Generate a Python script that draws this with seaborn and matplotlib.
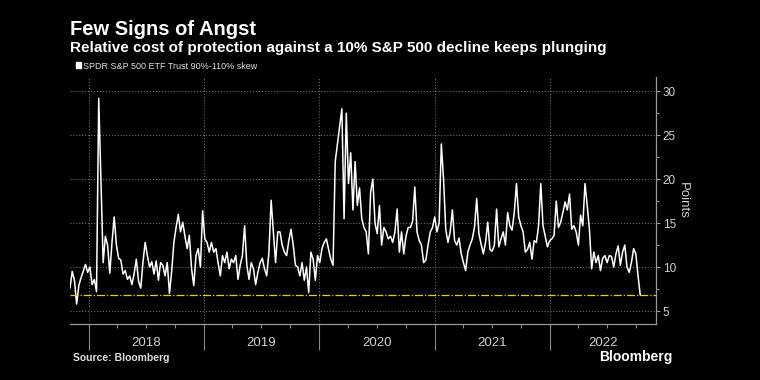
import matplotlib
matplotlib.use('Agg')
import matplotlib.pyplot as plt
import matplotlib.dates as mdates
from matplotlib.ticker import MultipleLocator, NullFormatter
from matplotlib.patches import Patch
import pandas as pd
import seaborn as sns

# Weekly readings of the SPY 90%-110% skew (points), starting early Nov 2017
skew_values = [
    7.6, 9.5, 8.5, 5.8, 7.9, 8.8, 9.5, 10.3, 9.4, 10.0,
    8.0, 8.6, 7.2, 29.2, 19.7, 10.5, 13.5, 12.5, 9.3, 12.8,
    15.7, 12.5, 11.0, 10.8, 9.2, 9.6, 8.6, 9.0, 8.0, 9.2,
    10.9, 8.4, 7.6, 10.5, 12.8, 11.3, 10.0, 10.6, 9.2, 10.7,
    8.5, 10.5,
    10.2, 9.0, 10.5, 7.0, 9.5, 12.8, 14.5, 16.0, 14.0, 15.1,
    13.5, 12.1, 13.6, 9.8, 7.9, 11.3, 12.1, 10.0, 16.4, 13.2,
    12.8, 11.7, 12.8, 11.7, 12.1, 10.5, 9.0, 11.3, 10.5, 11.7,
    9.8, 10.9, 10.5, 11.3, 8.6, 10.2, 11.3, 14.7, 10.2, 8.6,
    10.5, 9.8, 8.0, 9.4,
    10.5, 11.0, 9.8, 9.0, 11.7, 17.6, 14.0, 10.5, 14.0, 14.0,
    12.5, 11.7, 11.3, 13.0, 14.3, 12.5, 10.2, 10.0, 9.0, 10.5,
    8.5, 10.0, 7.1, 11.7, 10.9, 8.5, 11.3, 10.5, 12.1, 12.8,
    13.2, 12.0, 10.9, 10.2, 22.0, 24.0, 26.1, 28.0, 15.5, 27.5,
    19.5, 23.0, 16.5, 22.0, 17.0,
    19.0, 15.5, 14.5, 14.0, 11.5, 18.5, 20.0, 15.0, 13.8, 17.0,
    12.5, 14.5, 14.0, 13.2, 13.5, 12.8, 14.0, 16.6, 11.7, 14.0,
    11.5, 13.5, 14.5, 14.5, 15.2, 19.1, 14.0, 13.0, 12.5, 10.5,
    10.8, 12.5, 14.0, 14.5, 15.7, 14.0, 15.0, 24.0, 20.0, 14.3,
    12.8, 14.0, 16.5, 13.0,
    12.5, 13.3, 11.5, 10.5, 9.6, 11.7, 12.5, 13.2, 14.5, 17.8,
    13.8, 12.6, 11.5, 12.8, 15.1, 12.0, 11.8, 12.5, 16.6, 12.3,
    13.2, 14.0, 12.5, 16.2, 14.7, 14.2, 16.2, 19.5, 15.7, 14.7,
    14.0, 11.7, 12.0, 12.8, 10.9, 13.0, 12.8, 14.7, 19.5, 14.7,
    13.5, 12.3, 13.0, 13.2, 13.6,
    17.5, 14.5, 15.1, 16.2, 17.4, 16.5, 18.3, 14.3, 14.7, 14.0,
    12.5, 15.9, 14.7, 19.5, 17.0, 14.3, 9.8, 11.7, 10.5, 11.3,
    9.6, 11.0, 11.3, 10.5, 11.3, 11.2, 10.0, 11.5, 12.4, 10.2,
    11.7, 12.5, 10.0, 9.4, 10.5, 12.1, 11.5, 9.0, 6.8,
]
start_date = '2017-11-03'
axis_end = '2022-12-02'
year_labels = [2018, 2019, 2020, 2021, 2022]
ytick_values = [5, 10, 15, 20, 25, 30]

dates = pd.date_range(start_date, periods=len(skew_values), freq='7D')
df = pd.DataFrame({'date': dates, 'skew': skew_values})

sns.set_theme(style='dark')
plt.rcParams['font.family'] = ['Liberation Sans', 'DejaVu Sans']

fig = plt.figure(figsize=(7.6, 3.8), dpi=100, facecolor='black')
ax = fig.add_axes([0.0921, 0.148, 0.7707, 0.649])
ax.set_facecolor('black')

sns.lineplot(data=df, x='date', y='skew', color='white', linewidth=1.1, ax=ax)
# latest level
ax.axhline(skew_values[-1], color='#e0cc3a', linestyle='-.', linewidth=0.9)

x0, x1 = pd.Timestamp(start_date), pd.Timestamp(axis_end)
ax.set_xlim(x0, x1)
ax.set_ylim(3.55, 31.6)

# y axis on the right
ax.yaxis.tick_right()
ax.yaxis.set_label_position('right')
ax.set_yticks(ytick_values)
ax.yaxis.set_minor_locator(MultipleLocator(2.5))
ax.tick_params(axis='y', which='major', length=3, width=0.8, color='#999',
               labelcolor='#d0d0d0', labelsize=8.5, pad=2)
ax.tick_params(axis='y', which='minor', length=2.5, width=0.8, color='#999', right=True)
ax.set_ylabel('Points', rotation=270, color='#d0d0d0', fontsize=9.5, labelpad=9)
ax.set_xlabel('')

# x axis: long year ticks, short quarter ticks, labels centred in each year
ax.xaxis.set_major_locator(mdates.YearLocator())
ax.xaxis.set_major_formatter(NullFormatter())
ax.xaxis.set_minor_locator(mdates.MonthLocator(bymonth=[4, 7, 10]))
ax.xaxis.set_minor_formatter(NullFormatter())
ax.tick_params(axis='x', which='major', length=19, width=0.8, color='#888', bottom=True)
ax.tick_params(axis='x', which='minor', length=3, width=0.8, color='#888', bottom=True)
for yr in year_labels:
    a = pd.Timestamp(f'{yr}-01-01')
    b = min(pd.Timestamp(f'{yr + 1}-01-01'), x1)
    ax.text(a + (b - a) / 2, -0.08, str(yr), transform=ax.get_xaxis_transform(),
            ha='center', va='center', color='#d0d0d0', fontsize=9.5)

ax.grid(True, which='major', color='#6a6a6a', linestyle=':', linewidth=0.8)
for s in ['left', 'top']:
    ax.spines[s].set_visible(False)
for s in ['right', 'bottom']:
    ax.spines[s].set_color('#999')
    ax.spines[s].set_linewidth(0.9)

# legend above plot
ax.legend(handles=[Patch(facecolor='white', edgecolor='white',
                         label='SPDR S&P 500 ETF Trust 90%-110% skew')],
          loc='center left', bbox_to_anchor=(-0.004, 1.045), frameon=False,
          handlelength=0.6, handleheight=0.6, handletextpad=0.25,
          fontsize=6.5, labelcolor='#e0e0e0')

fig.text(0.092, 0.908, 'Few Signs of Angst', color='white', fontsize=14.5,
         weight='bold', va='baseline')
fig.text(0.092, 0.863,
         'Relative cost of protection against a 10% S&P 500 decline keeps plunging',
         color='white', fontsize=11, weight='bold', va='baseline')
fig.text(0.096, 0.058, 'Source: Bloomberg', color='#e0e0e0', fontsize=7.5,
         weight='bold', va='center')
fig.text(0.885, 0.06, 'Bloomberg', color='white', fontsize=10, weight='bold',
         va='center', ha='right')

fig.savefig('out.png', dpi=100, facecolor='black')
